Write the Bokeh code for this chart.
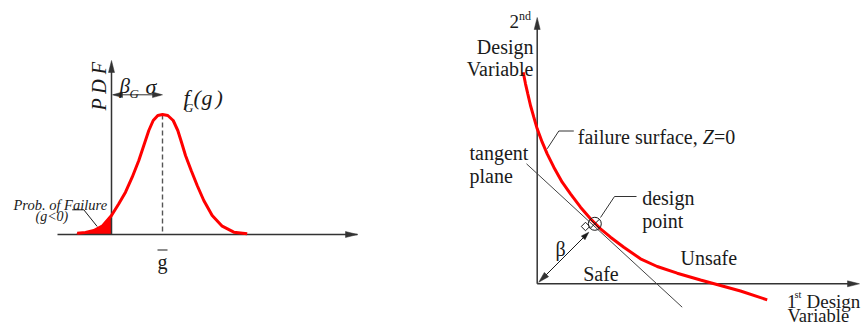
import math
from bokeh.plotting import figure
from bokeh.models import Range1d
from bokeh.core.properties import value
from bokeh.embed import file_html
from bokeh.resources import INLINE

# ---------------- data (pixel units) ----------------
# left panel: PDF of the limit-state function g
pdf_x = [76.7, 85, 93.3, 101.7, 111, 118.3, 125, 131.7, 138.3, 143.3, 148.3, 152.7,
         157.3, 162, 167.3, 172.7, 177.3, 181, 185, 190.7, 196.7, 203.3, 211.7,
         221.7, 233.3, 246.7]
pdf_y = [232.7, 232, 230, 225.7, 215, 203.3, 191.7, 176.7, 160, 145, 130, 120,
         115, 114, 115, 120, 130, 141.7, 155, 170, 185, 200, 215,
         225.7, 231.7, 233.3]
pdf_base = 234          # g axis
pdf_zero = 111          # g = 0 (vertical PDF axis)
pdf_mean = 162          # g-bar
pdf_axis_x = [57, 357]
pdf_axis_top = 60

# right panel: failure surface in design-variable space
surf_x = [522.7, 525, 527.3, 530, 533.3, 536.7, 541.7, 546.7, 553.3, 561.7, 570, 580,
          590, 600, 610, 623.3, 640, 656.7, 676.7, 700, 720, 740, 766.7]
surf_y = [71.7, 83.3, 93.3, 105, 116.7, 128.3, 141.7, 153.3, 166.7, 181.7, 193.3, 206.7,
          218.3, 228.3, 236.7, 246.7, 258.3, 266, 272.7, 279.5, 285, 290.5, 299.3]
tangent_x = [526, 681.7]
tangent_y = [163.3, 306.7]
origin = (536.7, 283.3)
dv_axis_top = 17
dv_axis_right = 859
design_pt = (594.3, 223.3)
beta_end = (588.3, 231.7)

FONT = value("Liberation Serif")
INK = "#1a1a1a"
AX = "#333333"

W, H = 861, 326
p = figure(width=W, height=H, x_range=Range1d(0, W), y_range=Range1d(H, 0),
           output_backend="svg", toolbar_location=None, min_border=0,
           x_axis_type=None, y_axis_type=None)
p.grid.visible = False
p.outline_line_color = None
p.background_fill_color = "white"
p.border_fill_color = "white"


def head(tip, frm, length=11, half=3.2, color=AX):
    dx, dy = tip[0] - frm[0], tip[1] - frm[1]
    d = math.hypot(dx, dy)
    ux, uy = dx / d, dy / d
    bx, by = tip[0] - ux * length, tip[1] - uy * length
    xs = [tip[0], bx - uy * half, bx + uy * half]
    ys = [tip[1], by + ux * half, by - ux * half]
    p.patch(xs, ys, fill_color=color, line_color=color, line_width=0.5)


def txt(x, y, s, size=20, italic=False, align="left", baseline="alphabetic", angle=0.0):
    p.text(x=[x], y=[y], text=[s], text_font=FONT, text_font_size=value(f"{size}px"),
           text_font_style="italic" if italic else "normal", text_align=align,
           text_baseline=baseline, text_color=INK, angle=angle)


# ---------------- left panel ----------------
fx = [x for x in pdf_x if x <= pdf_zero]
fy = [y for x, y in zip(pdf_x, pdf_y) if x <= pdf_zero]
p.patch(fx + [pdf_zero, fx[0]], fy + [pdf_base, pdf_base], fill_color="red", line_color="red")

p.line(pdf_axis_x, [pdf_base, pdf_base], line_color=AX, line_width=1.5)
head((pdf_axis_x[1], pdf_base), (pdf_axis_x[0], pdf_base), length=12, half=3)
p.line([pdf_zero, pdf_zero], [pdf_base, pdf_axis_top + 5], line_color=AX, line_width=1.5)
head((pdf_zero, pdf_axis_top), (pdf_zero, pdf_base), length=12, half=3)

p.line([pdf_mean, pdf_mean], [min(pdf_y), pdf_base], line_color="#555555", line_width=1.4,
       line_dash="5 3")

p.line(pdf_x, pdf_y, line_color="red", line_width=3)

p.line([pdf_zero + 2, pdf_mean - 2], [94.3, 94.3], line_color=AX, line_width=1)
head((pdf_zero + 1, 94.3), (pdf_mean, 94.3), length=10, half=2.8)
head((pdf_mean, 94.3), (pdf_zero, 94.3), length=10, half=2.8)

txt(98.5, 110, "P D F", size=20, italic=True, angle=math.pi / 2)
txt(119, 85, "β", size=21, italic=True)
txt(129, 93, "G", size=13, italic=True)
txt(145, 86, "σ", size=22, italic=True)
txt(183, 97, "f", size=22, italic=True)
txt(183.5, 107, "G", size=13, italic=True)
txt(193, 97, "(", size=22, italic=True)
txt(201, 97, "g", size=22, italic=True)
txt(215, 97, ")", size=22, italic=True)
txt(13, 204, "Prob. of Failure", size=14.5, italic=True)
txt(35, 216, "(g<0)", size=14, italic=True)
p.line([71.7, 83.3, 96.7], [209.3, 209.3, 226], line_color=INK, line_width=1)
txt(162, 261, "g", size=20, align="center")
p.line([157, 167], [249.5, 249.5], line_color=INK, line_width=1.2)

# ---------------- right panel ----------------
p.line([origin[0], origin[0]], [origin[1], dv_axis_top + 5], line_color=AX, line_width=1.5)
head((origin[0], dv_axis_top), origin, length=12, half=3)
p.line([origin[0], dv_axis_right - 5], [origin[1], origin[1]], line_color=AX, line_width=1.5)
head((dv_axis_right, origin[1]), origin, length=12, half=3)

p.line(tangent_x, tangent_y, line_color="#444444", line_width=1)
p.line(surf_x, surf_y, line_color="red", line_width=3)

p.line([origin[0] + 3, beta_end[0] - 3], [origin[1] - 3, beta_end[1] + 3], line_color=INK, line_width=1)
head((origin[0] + 1.5, origin[1] - 1.5), beta_end, length=11, half=3)
head(beta_end, origin, length=8, half=2.6, color=INK)

p.scatter([design_pt[0]], [design_pt[1]], marker="circle_x", size=13, fill_color=None,
          line_color=INK, line_width=1)
p.scatter([585], [226], marker="square", size=6, angle=math.pi / 4, fill_color=None,
          line_color=INK, line_width=1)

p.line([600, 614, 636], [217, 196, 196], line_color="#333333", line_width=1)
p.line([546.7, 558.3, 573.3], [148.3, 130.5, 130.5], line_color="#333333", line_width=1)

txt(509, 21, "2", size=19)
txt(518.5, 15.5, "nd", size=12)
txt(533, 46, "Design", size=20, align="right")
txt(533, 68.5, "Variable", size=20, align="right")
txt(577.3, 136.5, "failure surface, ", size=20)
txt(702.3, 136.5, "Z", size=20, italic=True)
txt(713.4, 136.5, "=0", size=20)
txt(469, 152, "tangent", size=20)
txt(469, 175, "plane", size=20)
txt(641.7, 197, "design", size=20)
txt(641.7, 220, "point", size=20)
txt(560, 248, "β", size=20, align="center")
txt(582.7, 273.5, "Safe", size=20)
txt(680, 257.5, "Unsafe", size=20)
txt(786.5, 300.5, "1", size=19)
txt(794, 294, "st", size=10.5)
txt(806, 300.5, "Design", size=19)
txt(787, 315, "Variable", size=18.5)

open("out.html", "w").write(file_html(p, INLINE))
